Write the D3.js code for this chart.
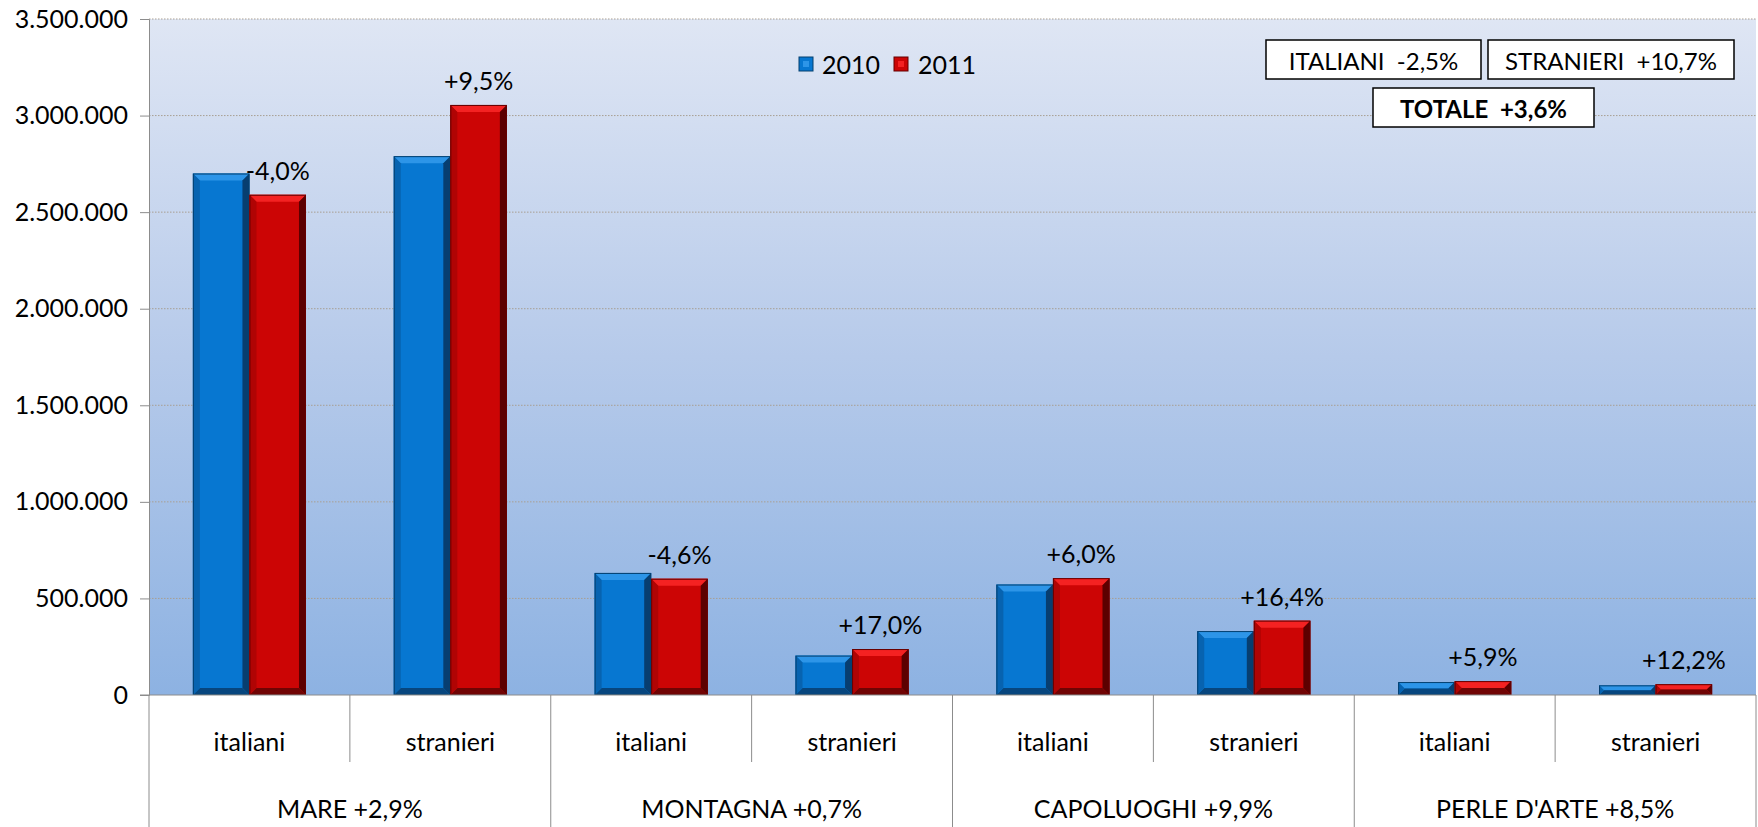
<!DOCTYPE html>
<html>
<head>
<meta charset="utf-8">
<script src="https://cdn.jsdelivr.net/npm/d3@7"></script>
<style>
  html, body { margin: 0; padding: 0; background: #ffffff; }
  svg { display: block; font-family: Lato, "Open Sans", sans-serif; }
</style>
</head>
<body>
<svg id="chart" width="1758" height="827"></svg>
<script>
// ---- data ----
const groups = ["MARE +2,9%", "MONTAGNA +0,7%", "CAPOLUOGHI +9,9%", "PERLE D'ARTE +8,5%"];
const subcats = ["italiani", "stranieri"];
const series = ["2010", "2011"];
const values2010 = [2700000, 2790000, 632000, 204000, 572000, 331000, 67000, 50000];
const values2011 = [2590000, 3055000, 602000, 238000, 605000, 385000, 72000, 56000];
const changeLabels = ["-4,0%", "+9,5%", "-4,6%", "+17,0%", "+6,0%", "+16,4%", "+5,9%", "+12,2%"];
const yTicks = [0, 500000, 1000000, 1500000, 2000000, 2500000, 3000000, 3500000];
const summaryTop = ["ITALIANI  -2,5%", "STRANIERI  +10,7%"];
const summaryTotal = "TOTALE  +3,6%";

// ---- layout ----
const svg = d3.select("#chart");
const plotL = 149, plotR = 1756, plotT = 19, plotB = 695;
const fmt = v => d3.format(",")(v).replace(/,/g, ".");

const keys = [];
groups.forEach((g, gi) => subcats.forEach((s, si) => keys.push(gi + "|" + s)));

const x0 = d3.scaleBand().domain(keys).range([plotL, plotR]).padding(0);
const x1 = d3.scaleBand().domain(series).range([0, x0.bandwidth()]).paddingInner(0).paddingOuter(0.776);
const y = d3.scaleLinear().domain([0, 3500000]).range([plotB, plotT]);

// background gradient
const defs = svg.append("defs");
const bg = defs.append("linearGradient").attr("id", "bg").attr("x1", 0).attr("y1", 0).attr("x2", 0).attr("y2", 1);
bg.append("stop").attr("offset", "0%").attr("stop-color", "#dfe6f4");
bg.append("stop").attr("offset", "50%").attr("stop-color", "#b6caea");
bg.append("stop").attr("offset", "100%").attr("stop-color", "#8db2e2");

svg.append("rect").attr("x", plotL).attr("y", plotT).attr("width", plotR - plotL).attr("height", plotB - plotT).attr("fill", "url(#bg)");

// gridlines
svg.append("g").selectAll("line").data(yTicks.filter(d => d > 0)).join("line")
  .attr("x1", plotL).attr("x2", plotR)
  .attr("y1", d => y(d)).attr("y2", d => y(d))
  .attr("stroke", "#a89f93").attr("stroke-width", 1).attr("stroke-dasharray", "1.5,1.5");

// y axis
const yAxis = d3.axisLeft(y).tickValues(yTicks).tickFormat(fmt).tickSize(9).tickPadding(12);
const gy = svg.append("g").attr("transform", `translate(${plotL},0)`).call(yAxis);
gy.select(".domain").attr("stroke", "#8c8c8c");
gy.selectAll(".tick line").attr("stroke", "#8c8c8c");
gy.selectAll(".tick text").attr("font-size", 25).attr("fill", "#000").attr("font-family", "Lato");

// bars with bevel
const colors = {
  "2010": { base: "#0777d1", top: "#2d95e8", left: "#0763b0", right: "#073e70", bottom: "#07467e", edge: "#05406f" },
  "2011": { base: "#cc0505", top: "#f42222", left: "#b00404", right: "#5c0000", bottom: "#700404", edge: "#650000" }
};
const barData = [];
keys.forEach((k, i) => {
  barData.push({ key: k, s: "2010", v: values2010[i] });
  barData.push({ key: k, s: "2011", v: values2011[i] });
});

const bars = svg.append("g").selectAll("g").data(barData).join("g");
bars.each(function(d) {
  const g = d3.select(this);
  const bx = x0(d.key) + x1(d.s), bw = x1.bandwidth();
  const by = y(d.v), bh = y(0) - y(d.v);
  const b = Math.min(7, bh / 2);
  const c = colors[d.s];
  g.append("rect").attr("x", bx).attr("y", by).attr("width", bw).attr("height", bh).attr("fill", c.base);
  const poly = pts => pts.map(p => p.join(",")).join(" ");
  g.append("polygon").attr("points", poly([[bx, by], [bx + bw, by], [bx + bw - b, by + b], [bx + b, by + b]])).attr("fill", c.top);
  g.append("polygon").attr("points", poly([[bx + bw, by], [bx + bw, by + bh], [bx + bw - b, by + bh - b], [bx + bw - b, by + b]])).attr("fill", c.right);
  g.append("polygon").attr("points", poly([[bx, by + bh], [bx + bw, by + bh], [bx + bw - b, by + bh - b], [bx + b, by + bh - b]])).attr("fill", c.bottom);
  g.append("polygon").attr("points", poly([[bx, by], [bx + b, by + b], [bx + b, by + bh - b], [bx, by + bh]])).attr("fill", c.left);
  g.append("rect").attr("x", bx + 0.5).attr("y", by + 0.5).attr("width", bw - 1).attr("height", Math.max(0, bh - 1))
    .attr("fill", "none").attr("stroke", c.edge).attr("stroke-width", 1);
});

// change labels over 2011 bars
svg.append("g").selectAll("text").data(keys).join("text")
  .attr("x", (k) => x0(k) + x1("2011") + x1.bandwidth() / 2)
  .attr("y", (k, i) => y(values2011[i]) - 25)
  .attr("text-anchor", "middle").attr("dominant-baseline", "central")
  .attr("font-size", 25).attr("fill", "#000")
  .text((k, i) => changeLabels[i]);

// category axis
const axisG = svg.append("g");
axisG.append("line").attr("x1", plotL - 9).attr("x2", plotR).attr("y1", plotB).attr("y2", plotB).attr("stroke", "#8c8c8c");
keys.forEach((k, i) => {
  const xs = x0(k);
  const outer = i % 2 === 0;
  axisG.append("line").attr("x1", xs).attr("x2", xs).attr("y1", plotB).attr("y2", outer ? 827 : 762).attr("stroke", "#8c8c8c");
});
axisG.append("line").attr("x1", plotR).attr("x2", plotR).attr("y1", plotB).attr("y2", 827).attr("stroke", "#8c8c8c");

axisG.selectAll("text.sub").data(keys).join("text").attr("class", "sub")
  .attr("x", k => x0(k) + x0.bandwidth() / 2).attr("y", 741)
  .attr("text-anchor", "middle").attr("dominant-baseline", "central")
  .attr("font-size", 25).attr("fill", "#000")
  .text(k => k.split("|")[1]);

axisG.selectAll("text.grp").data(groups).join("text").attr("class", "grp")
  .attr("x", (g, gi) => x0(gi + "|italiani") + x0.bandwidth())
  .attr("y", 808)
  .attr("text-anchor", "middle").attr("dominant-baseline", "central")
  .attr("font-size", 25).attr("fill", "#000")
  .text(g => g);

// legend
const legend = svg.append("g");
const legendPos = [{ sx: 799, tx: 822 }, { sx: 894, tx: 918 }];
series.forEach((s, i) => {
  const c = colors[s];
  legend.append("rect").attr("x", legendPos[i].sx).attr("y", 57).attr("width", 14).attr("height", 14)
    .attr("fill", c.base).attr("stroke", c.edge).attr("stroke-width", 1);
  legend.append("rect").attr("x", legendPos[i].sx + 4).attr("y", 61).attr("width", 6).attr("height", 6).attr("fill", c.top);
  legend.append("text").attr("x", legendPos[i].tx).attr("y", 64).attr("dominant-baseline", "central")
    .attr("font-size", 25).attr("fill", "#000").text(s);
});

// summary boxes
const boxes = [
  { x: 1266, y: 40, w: 215, h: 39, t: summaryTop[0], bold: false },
  { x: 1488, y: 40, w: 246, h: 39, t: summaryTop[1], bold: false },
  { x: 1373, y: 88, w: 221, h: 39, t: summaryTotal, bold: true }
];
const bxs = svg.append("g").selectAll("g").data(boxes).join("g");
bxs.append("rect").attr("x", d => d.x).attr("y", d => d.y).attr("width", d => d.w).attr("height", d => d.h)
  .attr("fill", "#fff").attr("stroke", "#000").attr("stroke-width", 1.5);
bxs.append("text").attr("x", d => d.x + d.w / 2).attr("y", d => d.y + d.h / 2 + 1)
  .attr("text-anchor", "middle").attr("dominant-baseline", "central")
  .attr("font-size", 24).attr("font-weight", d => d.bold ? "bold" : "normal").attr("fill", "#000")
  .style("white-space", "pre")
  .text(d => d.t);
</script>
</body>
</html>
